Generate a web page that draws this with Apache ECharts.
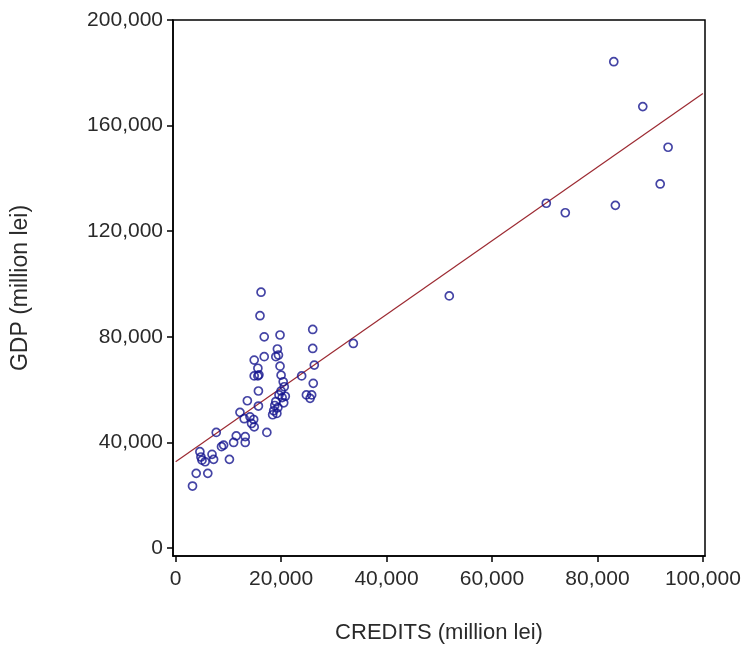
<!DOCTYPE html>
<html>
<head>
<meta charset="utf-8">
<script src="https://cdn.jsdelivr.net/npm/echarts@6/dist/echarts.min.js"></script>
<style>
html,body{margin:0;padding:0;background:#fff;}
#chart{width:749px;height:653px;}
</style>
</head>
<body>
<div id="chart"></div>
<script>
// CREDITS (million lei)
const credits = [3200,3900,6100,4600,5000,5600,4800,6900,7200,7700,8700,9100,10200,11000,11500,12200,13200,13200,13600,14100,14800,14400,14900,13000,15700,15700,14900,15600,15800,15600,14900,16800,16200,16000,16800,17300,19800,19300,19500,19000,19800,20000,20400,20600,20000,19600,20200,19000,18800,19400,18600,19200,20500,20800,18400,23900,26100,26000,26000,26300,24800,25800,25500,33700,51900,70300,73900,83400,83100,88600,91900,93400];
// GDP (million lei)
const gdp = [23500,28300,28300,36500,33300,32700,34500,35500,33600,43800,38400,39000,33600,40000,42500,51400,42200,40000,55800,49700,48700,47200,45900,49000,53800,59500,65200,65200,65600,68100,71200,72500,96900,88000,80000,43800,80700,75400,73100,72500,68900,65500,63000,61100,59500,58000,57000,55500,54000,53200,52000,51000,55000,57500,50500,65200,62400,82800,75600,69300,58000,58000,56700,77500,95500,130600,127000,129800,184200,167200,137900,151800];
// fitted line endpoints
const fitX = [0, 100000];
const fitY = [32700, 172200];
const xTicks = [0,20000,40000,60000,80000,100000];
const yTicks = [0,40000,80000,120000,160000,200000];

const pts = credits.map((c,i)=>[c,gdp[i]]);
const fit = fitX.map((x,i)=>[x,fitY[i]]);
const fmt = v => Number(v).toLocaleString('en-US');
const font = 'Liberation Sans, Arial, sans-serif';

const chart = echarts.init(document.getElementById('chart'));
chart.setOption({
  animation:false,
  backgroundColor:'#fff',
  grid:{left:173, top:20, right:44, bottom:97, show:true, borderColor:'#000', borderWidth:1.5, containLabel:false},
  xAxis:{
    type:'value', min:-500, max:100400,
    name:'CREDITS (million lei)', nameLocation:'middle', nameGap:66,
    nameTextStyle:{fontFamily:font, fontSize:22, color:'#2a2a2a'},
    splitLine:{show:false},
    axisLine:{show:true, onZero:false, lineStyle:{color:'#000', width:1.5}},
    axisTick:{show:true, length:6, customValues:xTicks, lineStyle:{color:'#000', width:1.5}},
    axisLabel:{customValues:xTicks, formatter:fmt, fontFamily:font, fontSize:21, color:'#2a2a2a', margin:13}
  },
  yAxis:{
    type:'value', min:-3000, max:200000,
    name:'GDP (million lei)', nameLocation:'middle', nameGap:141, nameRotate:90,
    nameTextStyle:{fontFamily:font, fontSize:23, color:'#2a2a2a'},
    splitLine:{show:false},
    axisLine:{show:true, onZero:false, lineStyle:{color:'#000', width:1.5}},
    axisTick:{show:true, length:6, customValues:yTicks, lineStyle:{color:'#000', width:1.5}},
    axisLabel:{customValues:yTicks, formatter:fmt, fontFamily:font, fontSize:21, color:'#2a2a2a', margin:10}
  },
  series:[
    {type:'line', data:fit, symbol:'none', lineStyle:{color:'#9c2a32', width:1.2}, z:1},
    {type:'scatter', data:pts, symbol:'circle', symbolSize:8,
     itemStyle:{color:'rgba(0,0,0,0)', borderColor:'#15158e', borderWidth:1.7}, z:2}
  ]
});
</script>
</body>
</html>
